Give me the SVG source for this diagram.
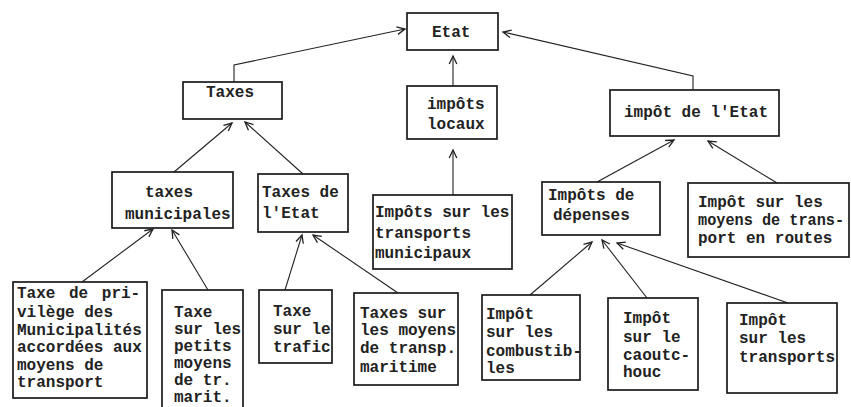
<svg xmlns="http://www.w3.org/2000/svg" width="851" height="407" viewBox="0 0 851 407">
<defs>
<style>
.box{fill:none;stroke:#1a1a1a;stroke-width:1.7}
.t{font-family:"Liberation Mono","DejaVu Sans Mono",monospace;font-size:16px;font-weight:bold;fill:#222}
.c{fill:none;stroke:#222;stroke-width:1.1}
</style>
<marker id="ah" markerUnits="userSpaceOnUse" markerWidth="12" markerHeight="12" viewBox="-10 -6 12 12" refX="0" refY="0" orient="auto">
<path d="M-8,-3.8 L0,0 L-8,3.8" fill="none" stroke="#222" stroke-width="1.3"/>
</marker>
</defs>
<rect width="851" height="407" fill="#fff"/>
<g id="connectors">
<polyline class="c" points="234,82 234,65 405,29" marker-end="url(#ah)"/>
<polyline class="c" points="693,90 693,76 503,32" marker-end="url(#ah)"/>
<line class="c" x1="453" y1="86" x2="453" y2="56" marker-end="url(#ah)"/>
<line class="c" x1="453" y1="195" x2="453" y2="150" marker-end="url(#ah)"/>
<line class="c" x1="174" y1="172" x2="232" y2="123" marker-end="url(#ah)"/>
<line class="c" x1="303" y1="174" x2="245" y2="122" marker-end="url(#ah)"/>
<line class="c" x1="597" y1="182" x2="674" y2="140" marker-end="url(#ah)"/>
<line class="c" x1="777" y1="183" x2="708" y2="141" marker-end="url(#ah)"/>
<line class="c" x1="82" y1="282" x2="153" y2="229" marker-end="url(#ah)"/>
<line class="c" x1="208" y1="290" x2="172" y2="230" marker-end="url(#ah)"/>
<line class="c" x1="285" y1="290" x2="302" y2="235" marker-end="url(#ah)"/>
<line class="c" x1="398" y1="293" x2="313" y2="235" marker-end="url(#ah)"/>
<line class="c" x1="530" y1="295" x2="592" y2="242" marker-end="url(#ah)"/>
<line class="c" x1="647" y1="298" x2="602" y2="240" marker-end="url(#ah)"/>
<line class="c" x1="788" y1="303" x2="617" y2="243" marker-end="url(#ah)"/>
</g>
<g id="etat"><rect class="box" x="407" y="13" width="91" height="37"/><text class="t" x="432" y="37">Etat</text></g>
<g id="taxes"><rect class="box" x="183" y="82" width="99" height="37"/><text class="t" x="206" y="97">Taxes</text></g>
<g id="impots-locaux"><rect class="box" x="407" y="86" width="90" height="53"/><text class="t" x="427" y="109">impôts</text><text class="t" x="427" y="129">locaux</text></g>
<g id="impot-etat"><rect class="box" x="610" y="90" width="169" height="46"/><text class="t" x="624" y="117">impôt de l'Etat</text></g>
<g id="taxes-municipales"><rect class="box" x="112" y="172" width="121" height="56"/><text class="t" x="145" y="197">taxes</text><text class="t" x="125" y="219">municipales</text></g>
<g id="taxes-etat"><rect class="box" x="258" y="174" width="90" height="58"/><text class="t" x="262" y="197">Taxes de</text><text class="t" x="262" y="218">l'Etat</text></g>
<g id="impots-transports-municipaux"><rect class="box" x="373" y="195" width="139" height="74"/><text class="t" x="375" y="217">Impôts sur les</text><text class="t" x="375" y="238">transports</text><text class="t" x="375" y="258">municipaux</text></g>
<g id="impots-depenses"><rect class="box" x="542" y="182" width="118" height="53"/><text class="t" x="548" y="200">Impôts de</text><text class="t" x="553" y="220">dépenses</text></g>
<g id="impot-moyens-routes"><rect class="box" x="688" y="183" width="161" height="74"/><text class="t" x="698" y="207">Impôt sur les</text><text class="t" x="698" y="225" textLength="146" lengthAdjust="spacingAndGlyphs">moyens de trans-</text><text class="t" x="698" y="243">port en routes</text></g>
<g id="taxe-privilege"><rect class="box" x="13" y="282" width="134" height="116"/><text class="t" x="17" y="298" word-spacing="4">Taxe de pri-</text><text class="t" x="17" y="317">vilège des</text><text class="t" x="17" y="335">Municipalités</text><text class="t" x="17" y="352">accordées aux</text><text class="t" x="17" y="370">moyens de</text><text class="t" x="17" y="387">transport</text></g>
<g id="taxe-petits-moyens"><rect class="box" x="162" y="290" width="81" height="130"/><text class="t" x="174" y="317">Taxe</text><text class="t" x="174" y="334">sur les</text><text class="t" x="174" y="351">petits</text><text class="t" x="174" y="368">moyens</text><text class="t" x="174" y="385">de tr.</text><text class="t" x="174" y="402">marit.</text></g>
<g id="taxe-trafic"><rect class="box" x="259" y="290" width="73" height="73"/><text class="t" x="273" y="316">Taxe</text><text class="t" x="273" y="334">sur le</text><text class="t" x="273" y="352">trafic</text></g>
<g id="taxes-maritime"><rect class="box" x="354" y="293" width="104" height="92"/><text class="t" x="360" y="318">Taxes sur</text><text class="t" x="360" y="335">les moyens</text><text class="t" x="360" y="353">de transp.</text><text class="t" x="360" y="372">maritime</text></g>
<g id="impot-combustibles"><rect class="box" x="482" y="295" width="98" height="85"/><text class="t" x="486" y="319">Impôt</text><text class="t" x="486" y="337">sur les</text><text class="t" x="486" y="356">combustib-</text><text class="t" x="486" y="373">les</text></g>
<g id="impot-caoutchouc"><rect class="box" x="608" y="298" width="90" height="92"/><text class="t" x="623" y="323">Impôt</text><text class="t" x="623" y="342">sur le</text><text class="t" x="623" y="360">caoutc-</text><text class="t" x="623" y="377">houc</text></g>
<g id="impot-transports"><rect class="box" x="727" y="303" width="110" height="90"/><text class="t" x="739" y="325">Impôt</text><text class="t" x="739" y="343">sur les</text><text class="t" x="739" y="362">transports</text></g>
</svg>
